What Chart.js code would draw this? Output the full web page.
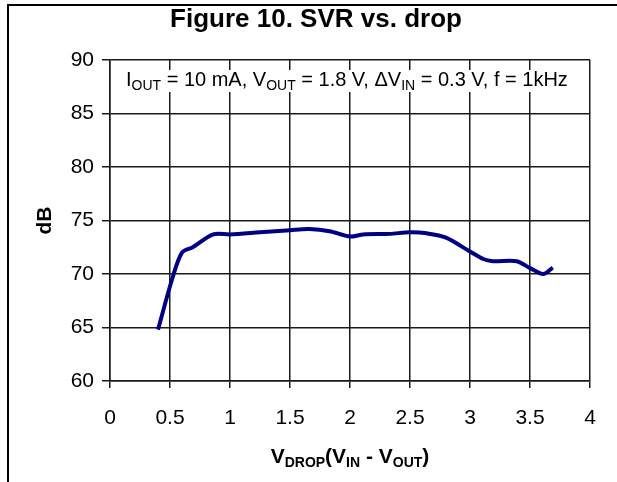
<!DOCTYPE html>
<html>
<head>
<meta charset="utf-8">
<script src="https://cdn.jsdelivr.net/npm/chart.js@4.4.1/dist/chart.umd.min.js"></script>
<style>
  html, body { margin: 0; padding: 0; background: #fff; }
  #wrap { width: 617px; height: 482px; }
</style>
</head>
<body>
<div id="wrap"><canvas id="c" width="617" height="482"></canvas></div>
<script>
// ── Data ───────────────────────────────────────────────────────
const vDrop = [0.40, 0.52, 0.60, 0.69, 0.86, 1.00, 1.25, 1.50, 1.66, 1.83, 2.00, 2.11,
               2.33, 2.50, 2.64, 2.80, 3.00, 3.11, 3.19, 3.39, 3.50, 3.61, 3.69];
const svrDb = [64.8, 69.6, 72.0, 72.5, 73.7, 73.7, 73.9, 74.1, 74.2, 74.0, 73.5, 73.7,
               73.75, 73.9, 73.8, 73.4, 72.1, 71.4, 71.2, 71.2, 70.55, 70.0, 70.6];
const xTicks = [0, 0.5, 1, 1.5, 2, 2.5, 3, 3.5, 4];
const yTicks = [60, 65, 70, 75, 80, 85, 90];

const FONT = '"Liberation Sans", Arial, sans-serif';
const GRID = '#1a1a1a';

// draw text made of [text, isSub] parts, starting at x on baseline y
function richText(ctx, parts, x, y, size, subSize, bold, subDrop) {
  const w = bold ? 'bold ' : '';
  let cx = x;
  parts.forEach(([t, sub]) => {
    ctx.font = w + (sub ? subSize : size) + 'px ' + FONT;
    ctx.fillText(t, cx, sub ? y + subDrop : y);
    cx += ctx.measureText(t).width;
  });
  return cx - x;
}
function richWidth(ctx, parts, size, subSize, bold) {
  const w = bold ? 'bold ' : '';
  let total = 0;
  parts.forEach(([t, sub]) => {
    ctx.font = w + (sub ? subSize : size) + 'px ' + FONT;
    total += ctx.measureText(t).width;
  });
  return total;
}

const noteParts = [
  ['I', 0], ['OUT', 1], [' = 10 mA, V', 0], ['OUT', 1], [' = 1.8 V, \u0394V', 0], ['IN', 1],
  [' = 0.3 V, f = 1kHz', 0],
];
const xTitleParts = [['V', 0], ['DROP', 1], ['(V', 0], ['IN', 1], [' - V', 0], ['OUT', 1], [')', 0]];

const decor = {
  id: 'decor',
  beforeDatasetsDraw(chart) {
    const { ctx } = chart;
    ctx.save();
    // annotation box over the grid
    const w = richWidth(ctx, noteParts, 20, 14, false);
    const x0 = 126;
    ctx.fillStyle = '#fff';
    ctx.fillRect(x0 - 6, 70, w + 10, 22);
    ctx.fillStyle = '#000';
    ctx.textBaseline = 'alphabetic';
    ctx.textAlign = 'left';
    richText(ctx, noteParts, x0, 86, 20, 14, false, 4);
    ctx.restore();
  },
  afterDraw(chart) {
    const { ctx, chartArea: a } = chart;
    ctx.save();
    // frame (top and left only, image is cropped)
    ctx.strokeStyle = '#000';
    ctx.lineWidth = 2;
    ctx.beginPath();
    ctx.moveTo(8, 482);
    ctx.lineTo(8, 5);
    ctx.lineTo(617, 5);
    ctx.stroke();
    // title
    ctx.fillStyle = '#000';
    ctx.textAlign = 'center';
    ctx.textBaseline = 'alphabetic';
    ctx.font = 'bold 26px ' + FONT;
    ctx.fillText('Figure 10. SVR vs. drop', 316, 27);
    // x axis title with subscripts
    ctx.textAlign = 'left';
    const tw = richWidth(ctx, xTitleParts, 21, 14, true);
    richText(ctx, xTitleParts, (a.left + a.right) / 2 - tw / 2, 463, 21, 14, true, 4);
    ctx.restore();
  },
};

const points = vDrop.map((x, i) => ({ x, y: svrDb[i] }));

new Chart(document.getElementById('c'), {
  type: 'line',
  data: {
    datasets: [{
      data: points,
      borderColor: '#000080',
      borderWidth: 4,
      pointRadius: 0,
      tension: 0.3,
      fill: false,
    }],
  },
  options: {
    responsive: false,
    animation: false,
    events: [],
    layout: { padding: { top: 60, right: 27, left: 0, bottom: 0 } },
    plugins: { legend: { display: false }, tooltip: { enabled: false }, title: { display: false } },
    scales: {
      x: {
        type: 'linear',
        min: 0, max: 4,
        afterBuildTicks: s => { s.ticks = xTicks.map(v => ({ value: v })); },
        afterFit: s => { s.height = 101; },
        ticks: {
          color: '#000', font: { family: FONT, size: 21 }, padding: 18, maxRotation: 0,
          callback: v => String(v),
        },
        grid: { color: GRID, lineWidth: 1.5, tickLength: 7, tickColor: GRID },
        border: { color: GRID, width: 1.5 },
      },
      y: {
        min: 60, max: 90,
        afterBuildTicks: s => { s.ticks = yTicks.map(v => ({ value: v })); },
        afterFit: s => { s.width = 110; },
        ticks: { color: '#000', font: { family: FONT, size: 21 }, padding: 8 },
        grid: { color: GRID, lineWidth: 1.5, tickLength: 8, tickColor: GRID },
        border: { color: GRID, width: 1.5 },
        title: {
          display: true, text: 'dB', color: '#000',
          font: { family: FONT, size: 21, weight: 'bold' },
          padding: { top: 33, bottom: 0 },
        },
      },
    },
  },
  plugins: [decor],
});
</script>
</body>
</html>
